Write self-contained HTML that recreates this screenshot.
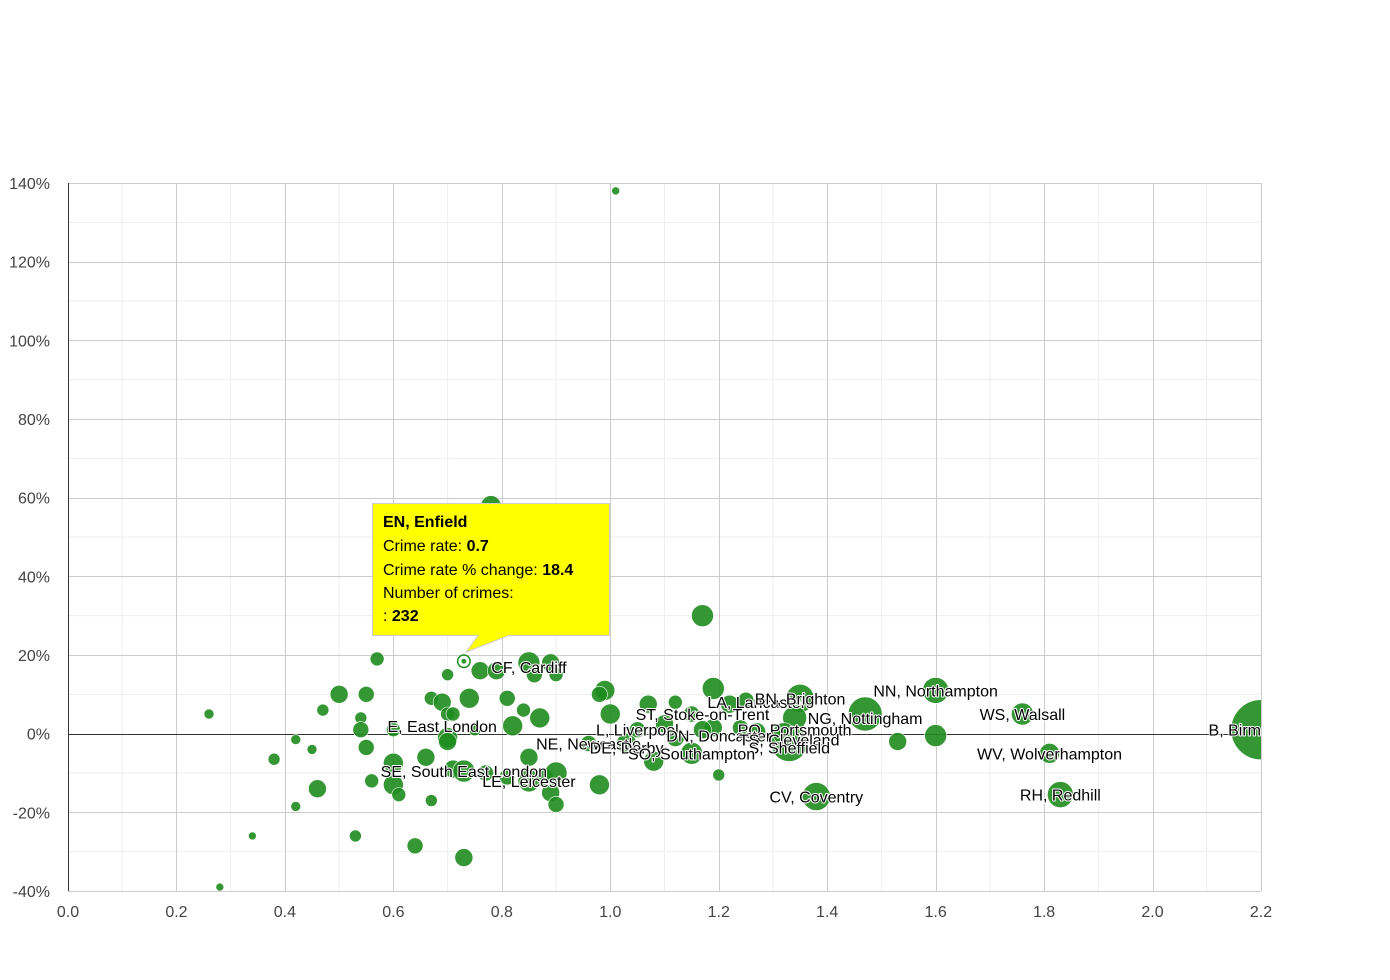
<!DOCTYPE html>
<html><head><meta charset="utf-8"><style>
body{margin:0;background:#fff;}
svg{display:block;font-family:"Liberation Sans",Arial,sans-serif;}
.lbl{font-size:16px;fill:#000;stroke:#fff;stroke-width:2px;paint-order:stroke;stroke-linejoin:round;}
.tick{font-size:16px;fill:#444;}
</style></head><body>
<svg id="chart" width="1390" height="980">
<defs><clipPath id="plotclip"><rect x="68" y="183" width="1193" height="708"/></clipPath></defs>
<g id="grid"></g>
<g id="axes"></g>
<g id="bubbles" clip-path="url(#plotclip)"></g>
<g id="labels" clip-path="url(#plotclip)"></g>
<g id="tooltip">
<path d="M372.5,503.5 H609.5 V635.5 H509 L466,652 L478,635.5 H372.5 Z" fill="#ffff00" stroke="#ccc" stroke-width="1"/>
<text x="383" y="527" font-size="16" font-weight="bold">EN, Enfield</text>
<text x="383" y="551" font-size="16">Crime rate: <tspan font-weight="bold">0.7</tspan></text>
<text x="383" y="575" font-size="16">Crime rate % change: <tspan font-weight="bold">18.4</tspan></text>
<text x="383" y="598" font-size="16">Number of crimes:</text>
<text x="383" y="621" font-size="16">: <tspan font-weight="bold">232</tspan></text>
</g>
</svg>
<script>
const xTicks=[0,0.2,0.4,0.6,0.8,1.0,1.2,1.4,1.6,1.8,2.0,2.2];
const yTicks=[-40,-20,0,20,40,60,80,100,120,140];
const rates=[1.01,0.78,1.17,0.57,0.73,0.76,0.79,0.85,0.89,0.86,0.90,0.70,0.50,0.55,0.47,0.26,0.67,0.69,0.74,0.81,0.54,0.54,0.60,0.70,0.71,0.82,0.84,0.87,0.75,0.70,0.70,0.42,0.45,0.38,0.55,0.60,0.66,0.71,0.73,0.77,0.81,0.85,0.85,0.88,0.90,0.89,0.90,0.98,0.46,0.56,0.60,0.61,0.67,0.42,0.34,0.53,0.64,0.73,0.28,
0.99,0.98,1.00,1.07,1.12,1.19,1.22,1.25,1.35,1.34,1.47,1.60,1.53,1.60,1.76,1.81,1.83,1.38,2.2,1.33,1.32,1.20,1.03,0.96,1.08,1.15,1.10,1.15,1.19,1.24,1.27,1.05,1.12,1.17];
const changes=[138,58,30,19,18.4,16,16,18,18,15,15,15,10,10,6,5,9,8,9,9,4,1,1,5,5,2,6,4,1,-1,-2,-1.5,-4,-6.5,-3.5,-7.5,-6,-9,-9.5,-10,-11,-6,-12,-11,-10,-15,-18,-13,-14,-12,-13,-15.5,-17,-18.5,-26,-26,-28.5,-31.5,-39,
11,10,5,7.5,8,11.5,7.5,8.5,9,4,5,11,-2,-0.5,5,-5,-15.5,-16,1,-2.5,0,-10.5,-2.5,-2.5,-7,-5,2.5,5,1.5,1.5,0.5,1,-1,1];
const crimes=[356,2222,2689,1089,232,1800,1800,2689,1800,1422,1089,800,1800,1422,800,556,1089,1800,2222,1422,800,1422,1089,1089,1089,2222,1089,2222,800,2222,1800,556,556,800,1422,2222,1800,1800,2689,1422,1422,1800,2689,1422,2689,1800,1422,2222,1800,1089,2222,1089,800,556,356,800,1422,1800,356,
2222,1422,2222,1800,1089,2689,1800,1422,4356,3200,6422,3756,1800,2689,2689,2222,3756,4356,20000,7200,2689,800,2222,1422,2222,2689,1800,1422,1800,1422,1800,1422,1800,1800];
const labelNames=["CF, Cardiff","E, East London","SE, South East London","LE, Leicester","NE, Newcastle","DE, Derby","L, Liverpool","ST, Stoke-on-Trent","LA, Lancaster","BN, Brighton","NG, Nottingham","PO, Portsmouth","DN, Doncaster","TS, Cleveland","S, Sheffield","SO, Southampton","NN, Northampton","WS, Walsall","WV, Wolverhampton","RH, Redhill","CV, Coventry","B, Birmingham"];
const labelX=[0.85,0.69,0.73,0.85,0.96,1.03,1.05,1.17,1.27,1.35,1.47,1.34,1.20,1.33,1.33,1.15,1.60,1.76,1.81,1.83,1.38,2.2];
const labelY=[17,2,-9.5,-12,-2.5,-3.5,1,5,8,9,4,1,-0.5,-1.5,-3.5,-5,11,5,-5,-15.5,-16,1];

const X0=68,X1=1261,Y0=891,Y1=183;
const xS=v=>X0+(v-0)/(2.2-0)*(X1-X0);
const yS=v=>Y0-(v+40)/180*(Y0-Y1);
const rS=c=>30*Math.sqrt(c/20000);
const NS="http://www.w3.org/2000/svg";
function mk(tag,attrs,parent){const e=document.createElementNS(NS,tag);for(const k in attrs)e.setAttribute(k,attrs[k]);parent.appendChild(e);return e;}
const grid=document.getElementById('grid'),axes=document.getElementById('axes'),bub=document.getElementById('bubbles'),lab=document.getElementById('labels');
for(let i=0;i<xTicks.length-1;i++){const m=(xTicks[i]+xTicks[i+1])/2;const l=mk('line',{x1:xS(m),x2:xS(m),y1:Y1,y2:Y0,stroke:'#eee'},grid);

}
for(let i=0;i<yTicks.length-1;i++){const m=(yTicks[i]+yTicks[i+1])/2;const l=mk('line',{x1:X0,x2:X1,y1:yS(m),y2:yS(m),stroke:'#eee'},grid);

}
xTicks.forEach(v=>{const x=Math.round(xS(v))+0.5;const l=mk('line',{x1:x,x2:x,y1:Y1,y2:Y0,stroke:'#ccc'},grid);


const t=mk('text',{x:xS(v),y:917,'text-anchor':'middle',class:'tick'},axes);t.textContent=v.toFixed(1);

});
yTicks.forEach(v=>{const y=Math.round(yS(v))+0.5;const l=mk('line',{x1:X0,x2:X1,y1:y,y2:y,stroke:v===0?'#333':'#ccc'},grid);


const t=mk('text',{x:50,y:yS(v)+6,'text-anchor':'end',class:'tick'},axes);t.textContent=v+'%';

});
const ax=mk('line',{x1:68.5,x2:68.5,y1:Y1,y2:Y0,stroke:'#333'},axes);


rates.forEach((r,i)=>{const c=mk('circle',{cx:xS(r),cy:yS(changes[i]),r:rS(crimes[i]),fill:'#1e8c1e','fill-opacity':0.9,stroke:'#fff','stroke-width':i===4?1.5:0.6},bub);

});
const hl=mk('circle',{cx:xS(rates[4]),cy:yS(changes[4]),r:rS(crimes[4])+3,fill:'none',stroke:'#1e8c1e','stroke-width':1.5},bub);


labelNames.forEach((n,i)=>{const t=mk('text',{x:xS(labelX[i]),y:yS(labelY[i])+6,'text-anchor':'middle',class:'lbl'},lab);t.textContent=n;

});
</script>
</body></html>
